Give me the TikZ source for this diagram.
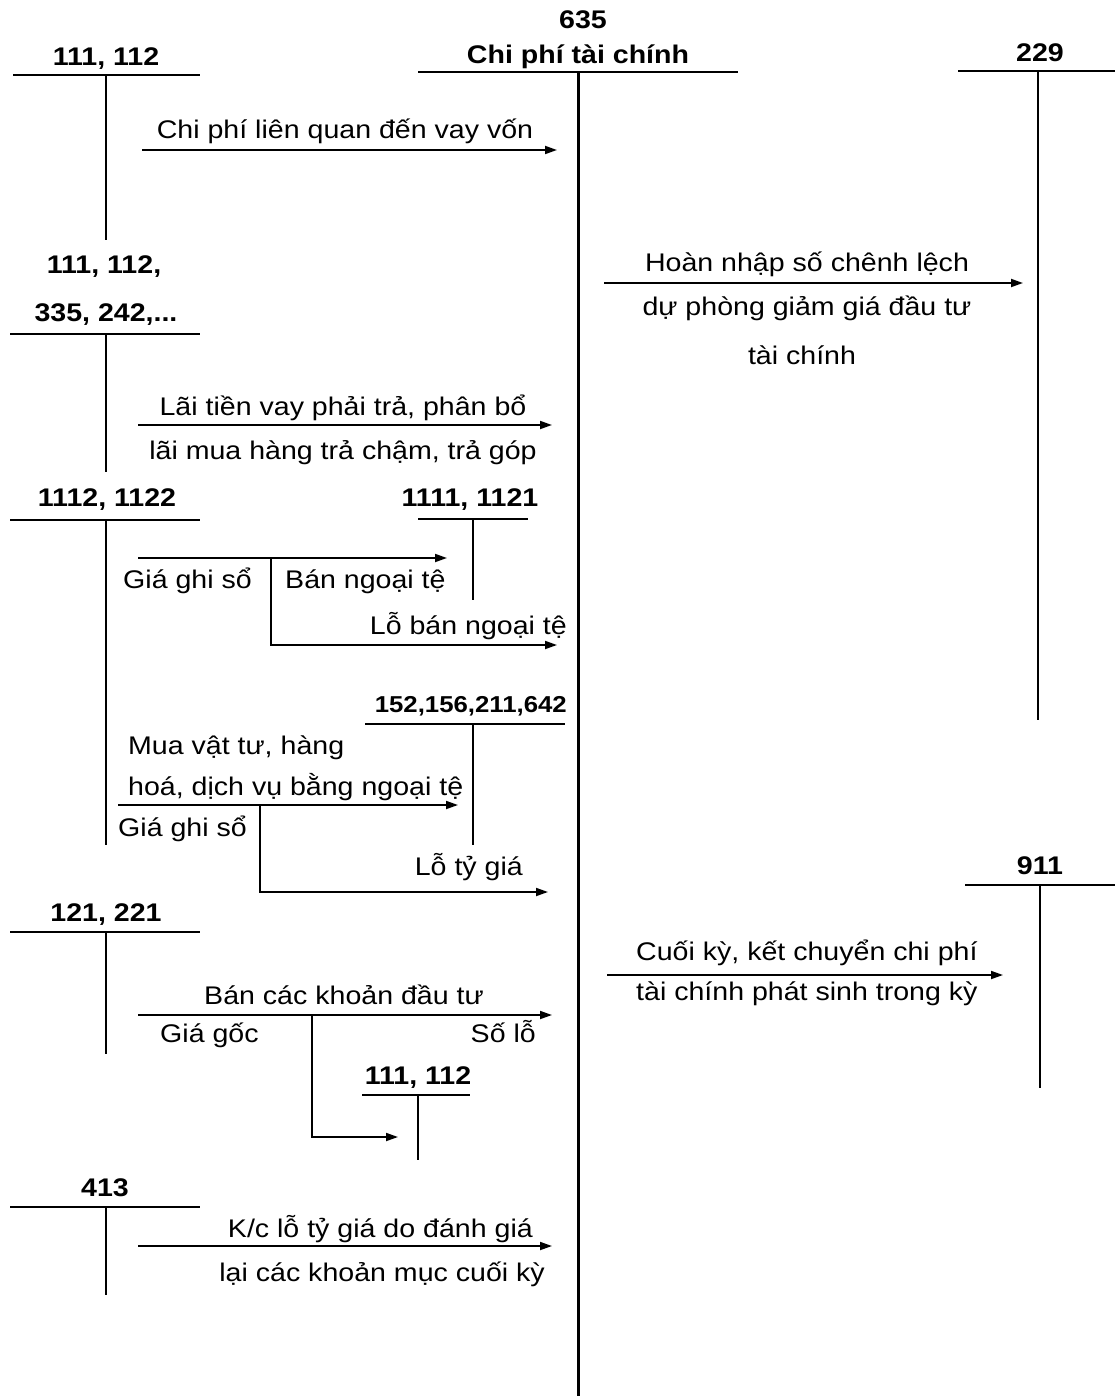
\documentclass[tikz,border=0pt]{standalone}
\usepackage{fontspec}
\setmainfont{Liberation Sans}[FakeStretch=1.12]
\usetikzlibrary{arrows.meta}
\begin{document}
\begin{tikzpicture}[x=1pt,y=-1pt,
  lbl/.style={inner sep=0pt, font=\fontsize{25.5}{30}\selectfont},
  acc/.style={inner sep=0pt, font=\fontsize{25.5}{30}\selectfont\bfseries},
  tline/.style={line width=2pt},
  arr/.style={line width=1.8pt, -{Triangle[length=12pt,width=8pt]}},
  seg/.style={line width=1.8pt}]
\useasboundingbox (0,0) rectangle (1115,1396);

% ---------- 635 ----------
\node[acc, anchor=base] (n635) at (583,29) {635};
\node[acc, anchor=base] (t635) at (578,64) {Chi phí tài chính};
\coordinate (m635l) at (418,72); \coordinate (m635r) at (738,72);
\coordinate (m635t) at (578,72); \coordinate (m635b) at (578,1396);
\draw[tline] (m635l) -- (m635r);
\draw[line width=3pt] (m635t) -- (m635b);

% ---------- 111,112 top ----------
\node[acc, anchor=base] (n111a) at (106,66) {111, 112};
\coordinate (a1l) at (13,75); \coordinate (a1r) at (200,75);
\coordinate (a1t) at (106,75); \coordinate (a1b) at (106,240);
\draw[tline] (a1l) -- (a1r); \draw[tline] (a1t) -- (a1b);

\coordinate (r1s) at (142,150); \coordinate (r1e) at (557,150);
\draw[arr] (r1s) -- (r1e);
\node[lbl, anchor=base] (l1) at (345,139) {Chi phí liên quan đến vay vốn};

% ---------- 229 ----------
\node[acc, anchor=base] (n229) at (1040,62) {229};
\coordinate (a2l) at (958,71); \coordinate (a2r) at (1115,71);
\coordinate (a2t) at (1038,71); \coordinate (a2b) at (1038,720);
\draw[tline] (a2l) -- (a2r); \draw[tline] (a2t) -- (a2b);

\coordinate (r2s) at (604,283); \coordinate (r2e) at (1023,283);
\draw[arr] (r2s) -- (r2e);
\node[lbl, anchor=base] (l2a) at (807,272) {Hoàn nhập số chênh lệch};
\node[lbl, anchor=base] (l2b) at (807,316) {dự phòng giảm giá đầu tư};
\node[lbl, anchor=base] (l2c) at (802,364) {tài chính};

% ---------- 111,112,335,242 ----------
\node[acc, anchor=base] (n111b) at (104,274) {111, 112,};
\node[acc, anchor=base] (n335) at (106,321) {335, 242,...};
\coordinate (a3l) at (10,334); \coordinate (a3r) at (200,334);
\coordinate (a3t) at (106,334); \coordinate (a3b) at (106,472);
\draw[tline] (a3l) -- (a3r); \draw[tline] (a3t) -- (a3b);

\coordinate (r3s) at (138,425); \coordinate (r3e) at (552,425);
\draw[arr] (r3s) -- (r3e);
\node[lbl, anchor=base] (l3a) at (343,415) {Lãi tiền vay phải trả, phân bổ};
\node[lbl, anchor=base] (l3b) at (343,459) {lãi mua hàng trả chậm, trả góp};

% ---------- 1112,1122 ----------
\node[acc, anchor=base] (n1112) at (107,506) {1112, 1122};
\coordinate (a4l) at (10,520); \coordinate (a4r) at (200,520);
\coordinate (a4t) at (106,520); \coordinate (a4b) at (106,845);
\draw[tline] (a4l) -- (a4r); \draw[tline] (a4t) -- (a4b);

% ---------- 1111,1121 ----------
\node[acc, anchor=base] (n1111) at (470,506) {1111, 1121};
\coordinate (a5l) at (418,519); \coordinate (a5r) at (528,519);
\coordinate (a5t) at (473,519); \coordinate (a5b) at (473,600);
\draw[tline] (a5l) -- (a5r); \draw[tline] (a5t) -- (a5b);

\coordinate (r4s) at (138,558); \coordinate (r4e) at (447,558);
\coordinate (r4k) at (271,558); \coordinate (r4c) at (271,645);
\coordinate (r4f) at (557,645);
\draw[arr] (r4s) -- (r4e);
\draw[arr] (r4k) -- (r4c) -- (r4f);
\node[lbl, anchor=base west] (l4a) at (123,588) {Giá ghi sổ};
\node[lbl, anchor=base west] (l4b) at (285,588) {Bán ngoại tệ};
\node[lbl, anchor=base east] (l4c) at (567,634) {Lỗ bán ngoại tệ};

% ---------- 152,156,211,642 ----------
\node[inner sep=0pt, font=\fontsize{23}{28}\selectfont\bfseries, anchor=base east] (n152) at (567,712) {152,156,211,642};
\coordinate (a6l) at (365,724); \coordinate (a6r) at (565,724);
\coordinate (a6t) at (473,724); \coordinate (a6b) at (473,845);
\draw[tline] (a6l) -- (a6r); \draw[tline] (a6t) -- (a6b);

\coordinate (r5s) at (118,805); \coordinate (r5e) at (458,805);
\coordinate (r5k) at (260,805); \coordinate (r5c) at (260,892);
\coordinate (r5f) at (548,892);
\draw[arr] (r5s) -- (r5e);
\draw[arr] (r5k) -- (r5c) -- (r5f);
\node[lbl, anchor=base west] (l5a) at (128,754) {Mua vật tư, hàng};
\node[lbl, anchor=base west] (l5b) at (128,795) {hoá, dịch vụ bằng ngoại tệ};
\node[lbl, anchor=base west] (l5c) at (118,836) {Giá ghi sổ};
\node[lbl, anchor=base east] (l5d) at (523,875) {Lỗ tỷ giá};

% ---------- 121,221 ----------
\node[acc, anchor=base] (n121) at (106,921) {121, 221};
\coordinate (a7l) at (10,932); \coordinate (a7r) at (200,932);
\coordinate (a7t) at (106,932); \coordinate (a7b) at (106,1054);
\draw[tline] (a7l) -- (a7r); \draw[tline] (a7t) -- (a7b);

\coordinate (r6s) at (138,1015); \coordinate (r6e) at (552,1015);
\coordinate (r6k) at (312,1015); \coordinate (r6c) at (312,1137);
\coordinate (r6f) at (398,1137);
\draw[arr] (r6s) -- (r6e);
\draw[arr] (r6k) -- (r6c) -- (r6f);
\node[lbl, anchor=base] (l6a) at (344,1004) {Bán các khoản đầu tư};
\node[lbl, anchor=base west] (l6b) at (160,1042) {Giá gốc};
\node[lbl, anchor=base east] (l6c) at (536,1042) {Số lỗ};

% ---------- 111,112 lower ----------
\node[acc, anchor=base] (n111c) at (418,1084) {111, 112};
\coordinate (a8l) at (362,1095); \coordinate (a8r) at (470,1095);
\coordinate (a8t) at (418,1095); \coordinate (a8b) at (418,1160);
\draw[tline] (a8l) -- (a8r); \draw[tline] (a8t) -- (a8b);

% ---------- 413 ----------
\node[acc, anchor=base] (n413) at (105,1196) {413};
\coordinate (a9l) at (10,1207); \coordinate (a9r) at (200,1207);
\coordinate (a9t) at (106,1207); \coordinate (a9b) at (106,1295);
\draw[tline] (a9l) -- (a9r); \draw[tline] (a9t) -- (a9b);

\coordinate (r7s) at (138,1246); \coordinate (r7e) at (552,1246);
\draw[arr] (r7s) -- (r7e);
\node[lbl, anchor=base east] (l7a) at (533,1237) {K/c lỗ tỷ giá do đánh giá};
\node[lbl, anchor=base east] (l7b) at (545,1281) {lại các khoản mục cuối kỳ};

% ---------- 911 ----------
\node[acc, anchor=base] (n911) at (1040,874) {911};
\coordinate (a10l) at (965,885); \coordinate (a10r) at (1115,885);
\coordinate (a10t) at (1040,885); \coordinate (a10b) at (1040,1088);
\draw[tline] (a10l) -- (a10r); \draw[tline] (a10t) -- (a10b);

\coordinate (r8s) at (607,975); \coordinate (r8e) at (1003,975);
\draw[arr] (r8s) -- (r8e);
\node[lbl, anchor=base west] (l8a) at (636,960) {Cuối kỳ, kết chuyển chi phí};
\node[lbl, anchor=base west] (l8b) at (636,1000) {tài chính phát sinh trong kỳ};
\end{tikzpicture}
\end{document}
